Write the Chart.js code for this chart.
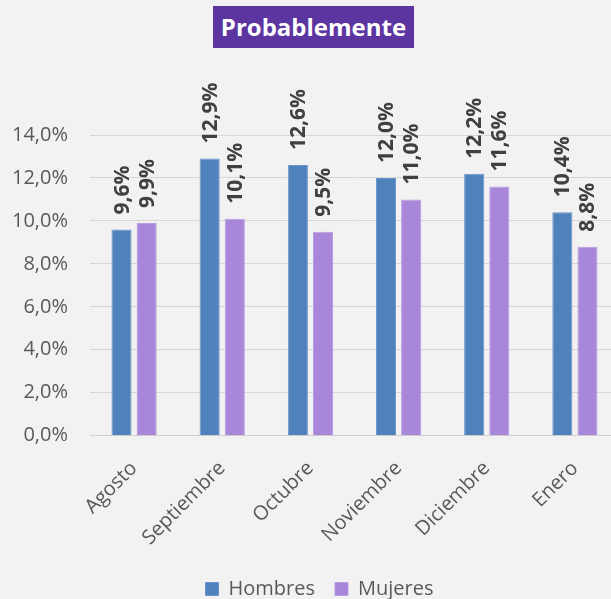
<!DOCTYPE html>
<html>
<head>
<meta charset="utf-8">
<script src="https://cdn.jsdelivr.net/npm/chart.js@4"></script>
<style>
  html, body { margin: 0; padding: 0; background: #f2f2f2; overflow: hidden; }
  #wrap { position: relative; width: 620px; height: 614px; }
  #title {
    position: absolute; left: 213px; top: 6px; width: 201px; height: 42px;
    background: #5c35a0; color: #fff; font: bold 24px "Open Sans", sans-serif;
    line-height: 42px; text-align: center; z-index: 2;
  }
</style>
</head>
<body>
<div id="wrap">
  <div id="title">Probablemente</div>
  <canvas id="myChart" width="620" height="614"></canvas>
</div>
<script>
const meses = ["Agosto", "Septiembre", "Octubre", "Noviembre", "Diciembre", "Enero"];
const hombres = [9.6, 12.9, 12.6, 12.0, 12.2, 10.4];
const mujeres = [9.9, 10.1, 9.5, 11.0, 11.6, 8.8];

const fmt = (v) => v.toFixed(1).replace(".", ",") + "%";

// values written vertically above every bar
const barValueLabels = {
  id: "barValueLabels",
  afterDatasetsDraw(chart) {
    const ctx = chart.ctx;
    ctx.save();
    ctx.font = 'bold 21px "Open Sans"';
    ctx.fillStyle = "#404040";
    ctx.textAlign = "left";
    ctx.textBaseline = "middle";
    chart.data.datasets.forEach((ds, i) => {
      chart.getDatasetMeta(i).data.forEach((bar, j) => {
        ctx.save();
        ctx.translate(bar.x + 1, bar.y - 15);
        ctx.rotate(-Math.PI / 2);
        ctx.fillText(fmt(ds.data[j]), 0, 0);
        ctx.restore();
      });
    });
    ctx.restore();
  },
};

// nudge the legend a little to the right
const legendShift = {
  id: "legendShift",
  afterLayout(chart) {
    chart.legend.left += 10;
    chart.legend.right += 10;
  },
};

const data = {
  labels: meses,
  datasets: [
    {
      label: "Hombres",
      backgroundColor: "#4f81bd",
      borderColor: "#6a95c9",
      borderWidth: 1,
      data: hombres,
    },
    {
      label: "Mujeres",
      backgroundColor: "#a886da",
      borderColor: "#b99be2",
      borderWidth: 1,
      data: mujeres,
    },
  ],
};

const config = {
  type: "bar",
  data: data,
  options: {
    responsive: false,
    animation: false,
    categoryPercentage: 0.57,
    barPercentage: 0.8,
    layout: { padding: { top: 135, right: 1, bottom: 5 } },
    scales: {
      x: {
        afterFit: (scale) => { scale.height -= 12; },
        grid: { display: false, drawTicks: false },
        border: { color: "#d0d0d0", width: 1 },
        ticks: {
          color: "#595959",
          font: { family: "Open Sans", size: 20 },
          minRotation: 45,
          maxRotation: 45,
          padding: 21,
        },
      },
      y: {
        min: 0,
        max: 14,
        afterFit: (scale) => { scale.width = 90; },
        grid: { color: "#d6d6d6", drawTicks: false },
        border: { display: false },
        ticks: {
          stepSize: 2,
          color: "#595959",
          font: { family: "Open Sans", size: 20 },
          padding: 22,
          callback: (v) => fmt(v),
        },
      },
    },
    plugins: {
      legend: {
        position: "bottom",
        labels: {
          color: "#595959",
          font: { family: "Open Sans", size: 20 },
          boxWidth: 13,
          boxHeight: 13,
          padding: 20,
        },
      },
      tooltip: { enabled: false },
    },
  },
  plugins: [barValueLabels, legendShift],
};

const myChart = new Chart(document.getElementById("myChart"), config);
</script>
</body>
</html>
